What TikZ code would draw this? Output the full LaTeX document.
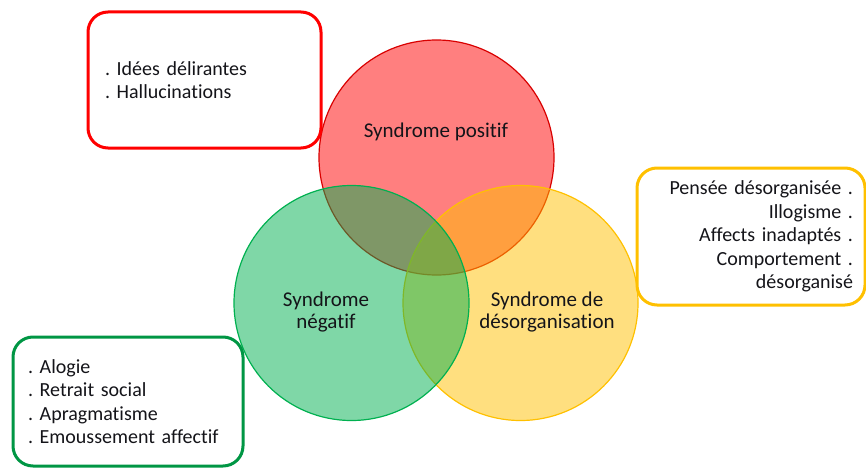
\documentclass[tikz,border=0pt]{standalone}
\usepackage{fontspec}
\setmainfont{Carlito}[Ligatures=NoCommon]
\frenchspacing
\definecolor{rouge}{RGB}{255,0,0}
\definecolor{vert}{RGB}{0,176,80}
\definecolor{jaune}{RGB}{255,192,0}
\definecolor{texte}{RGB}{20,20,25}
\begin{document}
\begin{tikzpicture}[x=1pt,y=-1pt]
            \tikzstyle{cercle}=[circle,minimum size=235pt,inner sep=0pt,fill opacity=0.5,line width=1.2pt]
            \tikzstyle{cadre}=[rectangle,rounded corners=20pt,line width=3pt,text=texte,font=\fontsize{20}{23.5}\selectfont]
            \tikzstyle{titre}=[align=center,text=texte,font=\fontsize{21}{22.5}\selectfont]
            \useasboundingbox (0,0) rectangle (866,468);
            \node[cercle,draw=rouge!85!black,fill=rouge] (pos) at (436.5,157.5) {};
            \node[cercle,draw=jaune,fill=jaune] (des) at (520.5,303) {};
            \node[cercle,draw=vert,fill=vert] (neg) at (351.5,303) {};
            \node[titre] (tpos) at (436,132) {Syndrome positif};
            \node[titre] (tneg) at (326,312) {Syndrome\\négatif};
            \node[titre] (tdes) at (547,312) {Syndrome de\\désorganisation};
            \node[cadre,draw=rouge,minimum width=233pt,minimum height=136pt,inner xsep=17pt,text width=199pt,align=left] (bpos) at (204.5,80) {. Idées délirantes\\. Hallucinations};
            \node[cadre,draw=jaune,minimum width=228pt,minimum height=137pt,inner xsep=12pt,text width=204pt,align=right] (bdes) at (751,236.5) {Pensée désorganisée .\\Illogisme .\\Affects inadaptés .\\Comportement .\\désorganisé};
            \node[cadre,draw=vert!85!black,minimum width=230pt,minimum height=129pt,inner xsep=15pt,text width=200pt,align=left] (bneg) at (128,401.5) {. Alogie\\. Retrait social\\. Apragmatisme\\. Emoussement affectif};
        \end{tikzpicture}
\end{document}
